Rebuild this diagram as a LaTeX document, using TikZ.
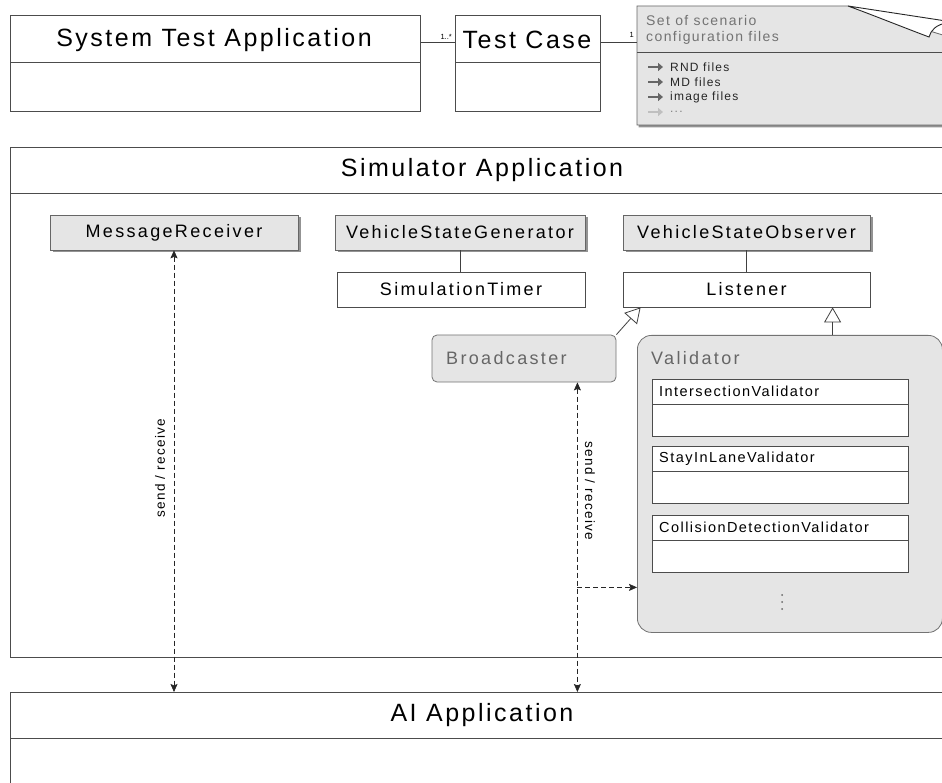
\documentclass[tikz,border=0pt]{standalone}
\usepackage{fontspec}
\setmainfont{Liberation Sans}
\newfontfamily\lsfam[LetterSpace=10]{Liberation Sans}
\newfontfamily\lsfamc[LetterSpace=13]{Liberation Sans}
\usetikzlibrary{shadows,arrows.meta,calc}
\newcommand\fnTitle{\lsfam\fontsize{25}{29}\selectfont}
\newcommand\fnClass{\lsfamc\fontsize{18}{21}\selectfont}
\newcommand\fnInner{\lsfam\fontsize{14.5}{17}\selectfont}
\newcommand\fnNote{\lsfam\fontsize{14}{16}\selectfont}
\newcommand\fnItem{\lsfam\fontsize{12}{14}\selectfont}
\newcommand\fnSR{\lsfam\fontsize{13.5}{15}\selectfont}
\newcommand\fnMult{\fontsize{7.5}{8}\selectfont}
\begin{document}
\begin{tikzpicture}[x=1pt,y=-1pt,
  plain/.style={draw=black!70, line width=0.8pt, fill=white, inner sep=0pt},
  divline/.style={draw=black!70, line width=0.8pt},
  conn/.style={draw=black!75, line width=0.8pt},
  grey/.style={draw=black!60, line width=0.7pt, fill=black!10, inner sep=0pt,
    drop shadow={shadow xshift=2.5pt, shadow yshift=-2.5pt, fill=black!60, opacity=0.7}},
  rgrey/.style={draw=black!55, line width=0.8pt, fill=black!10, inner sep=0pt},
  inherit/.style={draw=black!75, line width=0.8pt, -{Triangle[fill=white, length=15pt, width=17pt]}},
  dashconn/.style={draw=black!85, line width=0.6pt, dash pattern=on 5pt off 3pt,
    {Stealth[length=8pt,width=7pt,inset=1.5pt]}-{Stealth[length=8pt,width=7pt,inset=1.5pt]}},
  dashone/.style={draw=black!85, line width=0.6pt, dash pattern=on 5pt off 3pt,
    -{Stealth[length=8pt,width=7pt,inset=1.5pt]}},
  itemarrow/.style={line width=2.6pt, -{Triangle[length=5pt,width=8pt]}},
]
\useasboundingbox (0,0) rectangle (942,783);
\clip (0,0) rectangle (942,783);
\fill[white] (0,0) rectangle (942,783);

% ---- top row
\node[plain, anchor=north west, minimum width=410pt, minimum height=96pt] (sta) at (10,15) {};
\draw[divline] (10,62) -- (420,62);
\node[font=\fnTitle] (staT) at (214,40) {System Test Application};

\node[plain, anchor=north west, minimum width=145pt, minimum height=96pt] (tc) at (455,15) {};
\draw[divline] (455,62) -- (600,62);
\node[font=\fnTitle] (tcT) at (527,40) {Test Case};

\draw[conn] ($(sta.north east)+(0,27)$) -- ($(tc.north west)+(0,27)$);
\node[font=\fnMult, anchor=south east, inner sep=1pt] (m1) at (453,41) {1..*};

% note
\path[fill=black!10, draw=black!60, line width=0.8pt,
  drop shadow={shadow xshift=1.5pt, shadow yshift=-2.5pt, fill=black!60, opacity=0.7}]
  (637,6) -- (848,6) -- (946,36) -- (946,125) -- (637,125) -- cycle;
\path[fill=white, draw=black!85, line width=0.9pt]
  (848,6) -- (946,21) -- (946,23) .. controls (936,25) and (931,30) .. (929,37)
  .. controls (905,28) and (870,14) .. (848,6) -- cycle;
\coordinate (noteL) at (637,42);
\draw[divline] (637,52) -- (946,52);
\draw[conn] ($(tc.north east)+(0,27)$) -- (noteL);
\node[font=\fnMult, anchor=south east, inner sep=1pt] (m2) at (635,39) {1};

\node[anchor=west, font=\fnNote, text=black!55, inner sep=0pt] (nt1) at (646,21) {Set of scenario};
\node[anchor=west, font=\fnNote, text=black!55, inner sep=0pt] (nt2) at (646,38) {configuration files};
\foreach \yy/\txt/\nm in {67/RND files/i1, 82/MD files/i2, 97/image files/i3} {
  \draw[itemarrow, black!60] (648,\yy) -- (663,\yy);
  \node[anchor=west, font=\fnItem, inner sep=0pt, text=black!85] (\nm) at (670,\yy) {\txt};
}
\draw[itemarrow, black!25] (648,112) -- (663,112);
\node[anchor=west, font=\fnItem, inner sep=0pt, text=black!50] (i4) at (670,112) {...};

% ---- simulator
\node[plain, anchor=north west, minimum width=940pt, minimum height=510pt] (sim) at (10,147) {};
\draw[divline] (10,193) -- (950,193);
\node[font=\fnTitle] (simT) at (482,170) {Simulator Application};

\node[grey, minimum width=248pt, minimum height=35pt, font=\fnClass] (mr) at (174,232.5) {MessageReceiver};
\node[grey, minimum width=250pt, minimum height=35pt, font=\fnClass] (vsg) at (460,232.5) {VehicleStateGenerator};
\node[plain, minimum width=248pt, minimum height=35pt, font=\fnClass] (st) at (461,289.5) {SimulationTimer};
\draw[conn] (vsg.south) -- (vsg.south |- st.north);
\node[grey, minimum width=247pt, minimum height=35pt, font=\fnClass] (vso) at (746.5,232.5) {VehicleStateObserver};
\node[plain, minimum width=247pt, minimum height=35pt, font=\fnClass] (lis) at (746.5,289.5) {Listener};
\draw[conn] (vso.south) -- (lis.north);

\node[rgrey, rounded corners=5pt, minimum width=184pt, minimum height=47pt] (bc) at (524,358.5) {};
\node[anchor=west, font=\fnClass, text=black!60, inner sep=0pt] (bcT) at (446,358) {Broadcaster};

\node[rgrey, rounded corners=14pt, anchor=north west, minimum width=305pt, minimum height=297pt] (val) at (637,335) {};
\node[anchor=west, font=\fnClass, text=black!60, inner sep=0pt] (valT) at (651,358) {Validator};

\foreach \yy/\txt/\nm in {379/IntersectionValidator/iv, 446/StayInLaneValidator/sv, 515/CollisionDetectionValidator/cv} {
  \node[plain, anchor=north west, minimum width=256pt, minimum height=57pt] (\nm) at (652,\yy) {};
  \draw[divline] (652,\yy+25) -- (908,\yy+25);
  \node[anchor=west, font=\fnInner, inner sep=0pt] (\nm T) at (659,\yy+12.5) {\txt};
}
\foreach \yy in {595,602,609} { \fill[black!60] (782,\yy) circle (1pt); }

\draw[inherit] (bc.north east) -- ($(lis.south west)+(18,0)$);
\coordinate (lisv) at ($(lis.south west)+(210,0)$);
\draw[inherit] (val.north -| lisv) -- (lisv);

% ---- AI application
\node[plain, anchor=north west, minimum width=940pt, minimum height=100pt] (ai) at (10,692) {};
\draw[divline] (10,738) -- (950,738);
\node[font=\fnTitle] (aiT) at (482,715) {AI Application};

% ---- send / receive
\draw[dashconn] (mr.south) -- (mr.south |- ai.north);
\node[rotate=90, font=\fnSR] (sr1) at (160,468) {send / receive};
\coordinate (bcs) at ($(bc.south east)+(-39,0)$);
\draw[dashconn] (bcs) -- (bcs |- ai.north);
\coordinate (br) at ($(bcs)+(0,205)$);
\draw[dashone] (br) -- (br -| val.west);
\node[rotate=-90, font=\fnSR] (sr2) at (590,491) {send / receive};
\end{tikzpicture}
\end{document}
